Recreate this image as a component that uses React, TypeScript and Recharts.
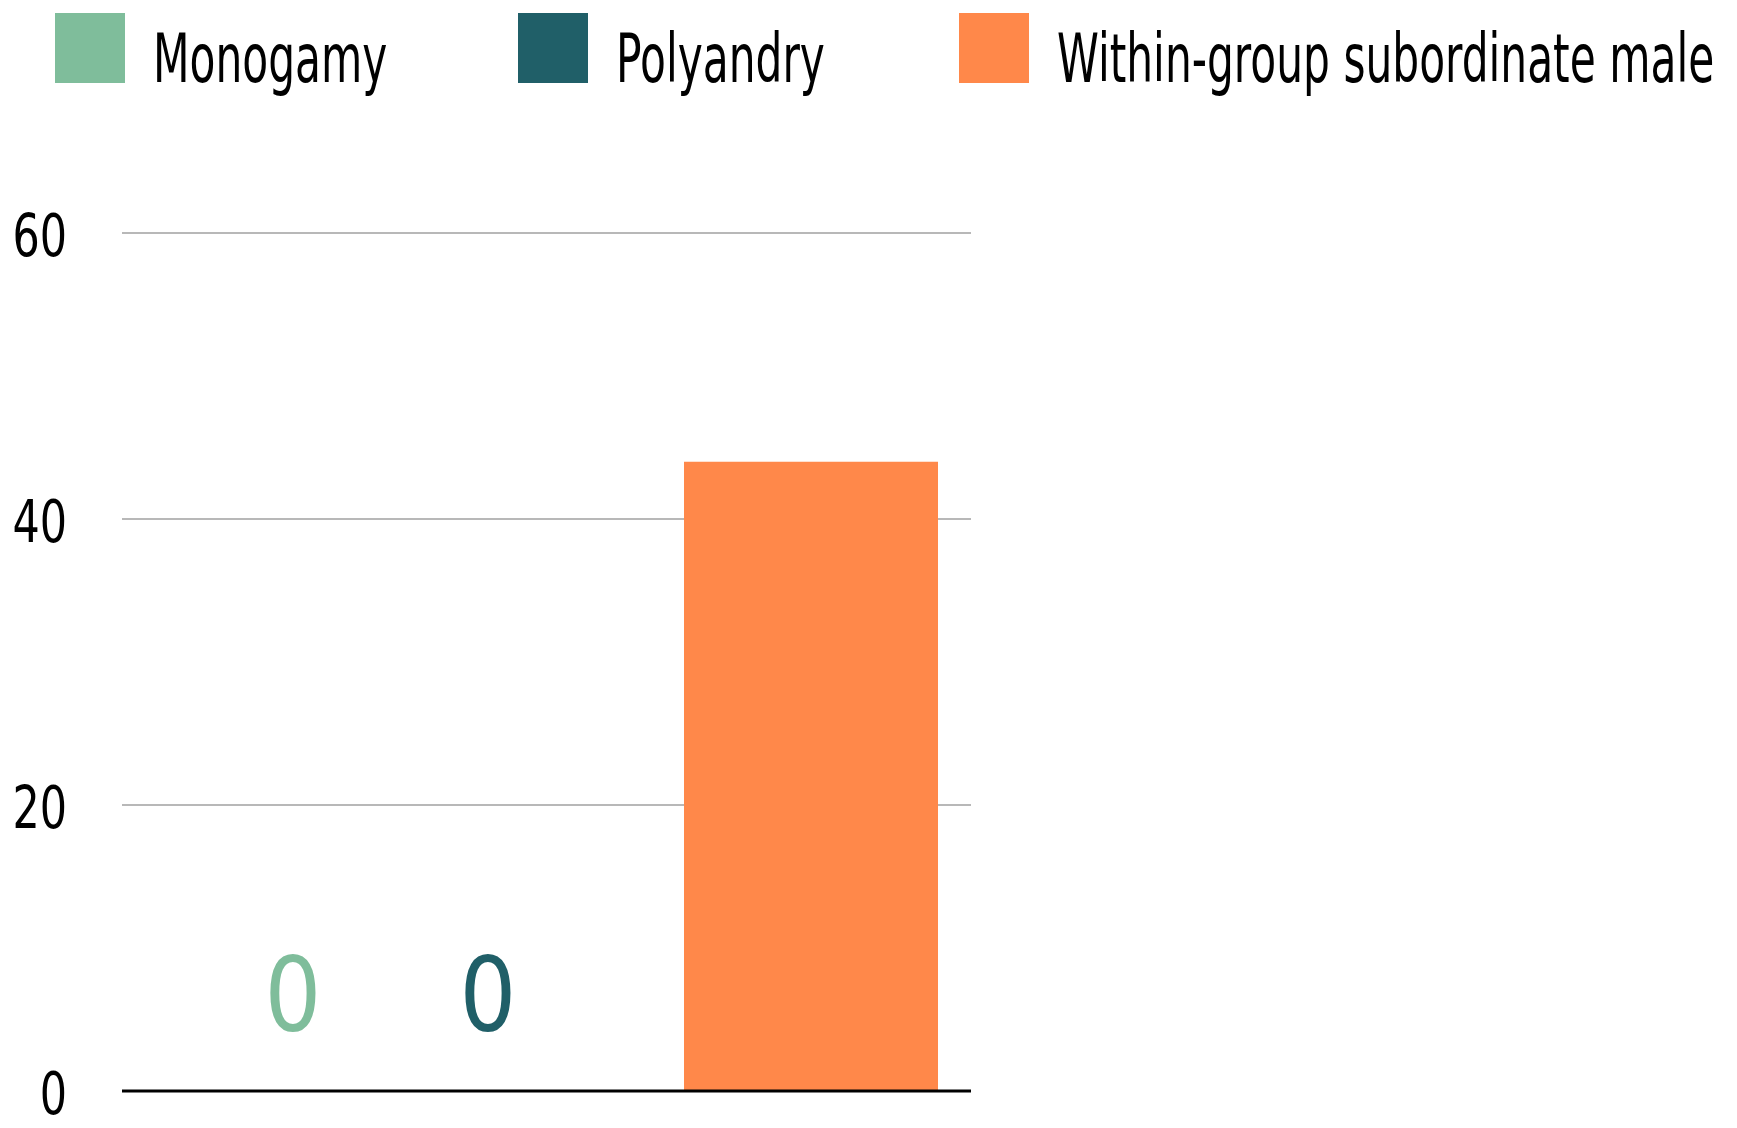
import React from 'react';
import { BarChart, Bar, XAxis, YAxis, CartesianGrid, Legend, LabelList, ReferenceLine } from 'recharts';

// values
const categories = ['Mating system'];
const monogamy = [0];
const polyandry = [0];
const withinGroup = [44];
const yTicks = [0, 20, 40, 60];

const SERIES = [
    { key: 'monogamy', name: 'Monogamy', color: '#7FBD9B', labelDx: 10, legendWidth: 227 },
    { key: 'polyandry', name: 'Polyandry', color: '#205F68', labelDx: -59, legendWidth: 205 },
    { key: 'within', name: 'Within-group subordinate male', color: '#FF884A', labelDx: 0, legendWidth: 665 },
];

const data = categories.map((c, i) => ({
    name: c,
    monogamy: monogamy[i],
    polyandry: polyandry[i],
    within: withinGroup[i],
}));

const FONT = '"DejaVu Sans", "Noto Sans", sans-serif';

// no condensed font available, so squeeze the glyphs horizontally
const CondText = ({ x, y, sx, anchor = 'start', size, fill = '#000', children }: any) => (
    <g transform={`translate(${x},${y}) scale(${sx},1)`}>
        <text x={0} y={0} textAnchor={anchor} fontFamily={FONT} fontSize={size} fill={fill}>
            {children}
        </text>
    </g>
);

const renderLegend = () => {
    let cursor = 55;
    return (
        <svg width={1737} height={100} style={{ display: 'block' }}>
            {SERIES.map((s) => {
                const x0 = cursor;
                cursor = x0 + 98 + s.legendWidth + 138;
                return (
                    <g key={s.key}>
                        <rect x={x0} y={13} width={70} height={70} fill={s.color} />
                        <CondText x={x0 + 98} y={82} sx={0.632} size={67}>
                            {s.name}
                        </CondText>
                    </g>
                );
            })}
        </svg>
    );
};

const YTick = (props: any) => {
    const { y, payload } = props;
    return (
        <CondText x={67} y={y + 23} sx={0.74} anchor="end" size={58}>
            {payload.value}
        </CondText>
    );
};

const zeroLabel = (color: string, dx: number) => (props: any) => {
    const vb = props.viewBox || props;
    const x = vb.x ?? props.x;
    const width = vb.width ?? props.width ?? 0;
    const y = (vb.y ?? props.y) + (vb.height ?? 0);
    return (
        <CondText x={x + width / 2 + dx} y={y - 60} sx={0.86} anchor="middle" size={104} fill={color}>
            {props.value ?? 0}
        </CondText>
    );
};

const App = () => {
    return (
        <div style={{ position: 'absolute', left: 0, top: 0, background: '#fff' }}>
            <BarChart
                width={1737}
                height={1128}
                data={data}
                margin={{ top: 133, right: 766, bottom: 37, left: 0 }}
                barGap={10}
            >
                <CartesianGrid vertical={false} stroke="#B8B8B8" strokeWidth={2} />
                <XAxis dataKey="name" hide />
                <YAxis
                    domain={[0, 60]}
                    ticks={yTicks}
                    width={122}
                    axisLine={false}
                    tickLine={false}
                    tick={<YTick />}
                />
                <Legend verticalAlign="top" align="left" content={renderLegend} wrapperStyle={{ top: 0, left: 0 }} />
                {SERIES.map((s) => (
                    <Bar
                        key={s.key}
                        dataKey={s.key}
                        name={s.name}
                        fill={s.color}
                        barSize={254}
                        minPointSize={s.key !== 'within' ? 1 : 0}
                        isAnimationActive={false}
                    >
                        {s.key !== 'within' && (
                            <LabelList dataKey={s.key} content={zeroLabel(s.color, s.labelDx)} />
                        )}
                    </Bar>
                ))}
                <ReferenceLine y={0} stroke="#000" strokeWidth={3} />
            </BarChart>
        </div>
    );
};

export default App;
